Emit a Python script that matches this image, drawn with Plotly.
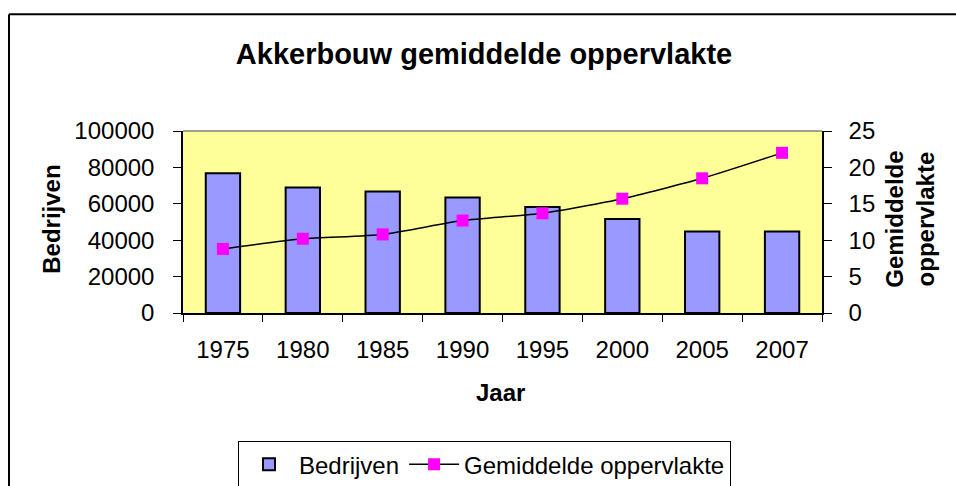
import plotly.graph_objects as go

years = ["1975", "1980", "1985", "1990", "1995", "2000", "2005", "2007"]
bedrijven = [76800, 68900, 66700, 63500, 58200, 51600, 44800, 44800]
gem_opp = [8.8, 10.2, 10.8, 12.7, 13.7, 15.7, 18.5, 22.0]
left_ticks = [0, 20000, 40000, 60000, 80000, 100000]
right_ticks = [0, 5, 10, 15, 20, 25]

FONT = "Liberation Sans, Arial, sans-serif"

# plot-area pixel geometry
L, R, T, B = 183, 822, 131, 313.5
W, H = R - L, B - T

def px(x):
    return (x - L) / W

def py(y):
    return (B - y) / H

fig = go.Figure()
fig.add_trace(go.Bar(
    x=years, y=bedrijven, name="Bedrijven",
    marker=dict(color="#9999FF", line=dict(color="black", width=2)),
    width=0.43, yaxis="y",
))
fig.add_trace(go.Scatter(
    x=years, y=gem_opp, name="Gemiddelde oppervlakte", yaxis="y2",
    mode="lines+markers",
    line=dict(color="black", width=1.5, shape="spline", smoothing=0.6),
    marker=dict(symbol="square", size=12, color="#FF00FF"),
))

fig.update_layout(
    width=956, height=486,
    margin=dict(l=L, r=956 - R, t=T, b=486 - B, autoexpand=False),
    paper_bgcolor="white", plot_bgcolor="#FFFF99",
    font=dict(family=FONT, size=24, color="black"),
    showlegend=True,
    title=dict(text="<b>Akkerbouw gemiddelde oppervlakte</b>",
               font=dict(size=29, family=FONT, color="black"),
               x=484 / 956, xanchor="center", y=1 - 54 / 486, yanchor="middle"),
    xaxis=dict(type="category", showline=True, linecolor="black", linewidth=1.5,
               ticks="outside", tickson="boundaries", ticklen=7, tickcolor="black",
               ticklabelstandoff=14, showgrid=False, zeroline=False),
    yaxis=dict(range=[0, 100000], tickvals=left_ticks, tickformat="d", showline=True,
               linecolor="black", linewidth=1.5, ticks="outside", ticklen=8,
               tickcolor="black", ticklabelstandoff=14, showgrid=False,
               zeroline=False),
    yaxis2=dict(range=[0, 25], tickvals=right_ticks, overlaying="y", side="right",
                showline=True, linecolor="black", linewidth=1.5, ticks="outside",
                ticklen=8, tickcolor="black", ticklabelstandoff=12,
                showgrid=False, zeroline=False),
    legend=dict(orientation="h", x=px(238), y=py(442), xanchor="left", yanchor="top",
                bgcolor="white", bordercolor="black", borderwidth=1,
                font=dict(size=24, family=FONT), traceorder="normal",
                itemwidth=50),
    bargap=0.57,
)

fig.add_annotation(text="<b>Bedrijven</b>", xref="paper", yref="paper",
                   x=px(52), y=py(220), textangle=-90, showarrow=False,
                   font=dict(size=24, family=FONT), xanchor="center", yanchor="middle")
fig.add_annotation(text="<b>Gemiddelde<br>oppervlakte</b>", xref="paper", yref="paper",
                   x=px(910), y=py(220), textangle=-90, showarrow=False,
                   font=dict(size=24, family=FONT), xanchor="center", yanchor="middle")
fig.add_annotation(text="<b>Jaar</b>", xref="paper", yref="paper",
                   x=px(500.5), y=py(393), showarrow=False,
                   font=dict(size=24, family=FONT), xanchor="center", yanchor="middle")

# plot area top border (gray) and chart frame
fig.add_shape(type="line", xref="paper", yref="paper", x0=0, x1=1, y0=1, y1=1,
              line=dict(color="#808080", width=1.5))
fig.add_shape(type="line", xref="paper", yref="paper", x0=px(9), x1=px(9),
              y0=py(14), y1=py(500), line=dict(color="black", width=2))
fig.add_shape(type="line", xref="paper", yref="paper", x0=px(9), x1=px(970),
              y0=py(14), y1=py(14), line=dict(color="black", width=2))

fig.write_html("out.html", config={"displayModeBar": False},
               post_script="document.body.style.margin='0';document.body.style.overflow='hidden';")
